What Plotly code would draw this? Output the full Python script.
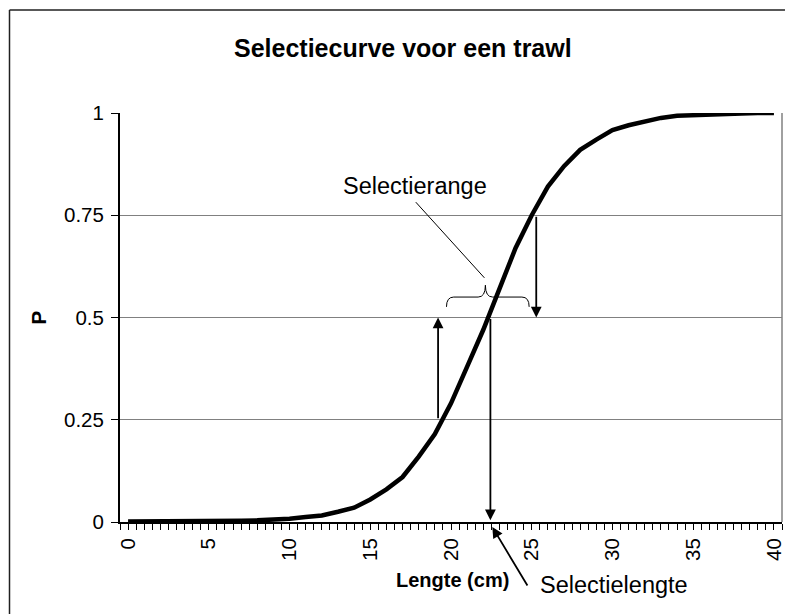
import plotly.graph_objects as go

# ---- data ----
lengths = list(range(0, 41))
probs = [0.001, 0.001, 0.001, 0.001, 0.001, 0.001, 0.001, 0.003, 0.004, 0.005,
         0.008, 0.012, 0.016, 0.025, 0.035, 0.055, 0.08, 0.11, 0.16, 0.215,
         0.29, 0.38, 0.47, 0.57, 0.67, 0.75, 0.82, 0.87, 0.91, 0.935,
         0.958, 0.97, 0.98, 0.988, 0.993, 0.995, 0.997, 0.998, 0.999, 1.0, 1.0]
x_ticks = [0, 5, 10, 15, 20, 25, 30, 35, 40]
y_ticks = [0, 0.25, 0.5, 0.75, 1]
y_tick_labels = ["0", "0.25", "0.5", "0.75", "1"]

L25 = 19.2      # length at P = 0.25
L50 = 22.44     # selection length (P = 0.5)
L75 = 25.28     # length at P = 0.75

title = "Selectiecurve voor een trawl"
x_title = "Lengte (cm)"
y_title = "P"
label_range = "Selectierange"
label_length = "Selectielengte"

FONT = "Liberation Sans, Arial, sans-serif"

W, H = 788, 614
ml, mt = 120, 113
mr = W - 785
mb = H - 522
PW = W - ml - mr
PH = H - mt - mb


def px_x(px):
    """window pixel -> paper x"""
    return (px - ml) / PW


def px_y(py):
    """window pixel -> paper y"""
    return (H - mb - py) / PH


fig = go.Figure()
fig.add_trace(go.Scatter(x=lengths, y=probs, mode="lines",
                         line=dict(color="black", width=4.5), hoverinfo="skip",
                         showlegend=False))

fig.update_layout(
    width=W, height=H,
    margin=dict(l=ml, r=mr, t=mt, b=mb, pad=0),
    paper_bgcolor="white", plot_bgcolor="white",
    font=dict(family=FONT, color="black"),
    showlegend=False,
)

fig.update_xaxes(
    range=[-0.5, 40.5], tickmode="array", tickvals=x_ticks,
    ticktext=[str(v) for v in x_ticks], tickangle=-90,
    tickfont=dict(size=20.5, family=FONT),
    ticks="outside", ticklen=6, tickwidth=1, tickcolor="black",
    minor=dict(tick0=-0.5, dtick=0.5, ticks="outside", ticklen=6,
               tickwidth=1, tickcolor="black", showgrid=False),
    showline=True, linecolor="black", linewidth=2,
    showgrid=False, zeroline=False, fixedrange=True,
)
fig.update_yaxes(
    range=[0, 1], tickmode="array", tickvals=y_ticks, ticktext=y_tick_labels,
    tickfont=dict(size=20.5, family=FONT), ticklabelstandoff=3,
    ticks="outside", ticklen=7, tickwidth=1, tickcolor="black",
    showline=True, linecolor="black", linewidth=2,
    showgrid=True, gridcolor="#808080", gridwidth=1,
    zeroline=False, fixedrange=True,
)

# outer chart border (left and top edges visible) and right plot-area border
fig.add_shape(type="line", xref="paper", yref="paper",
              x0=px_x(9), y0=px_y(10), x1=px_x(9), y1=px_y(H),
              line=dict(color="#202020", width=1.5), layer="below")
fig.add_shape(type="line", xref="paper", yref="paper",
              x0=px_x(9), y0=px_y(10), x1=px_x(W), y1=px_y(10),
              line=dict(color="#202020", width=1.5), layer="below")
fig.add_shape(type="line", xref="paper", yref="paper", x0=1, x1=1, y0=0, y1=1,
              line=dict(color="#808080", width=1.5))

# titles
fig.add_annotation(text="<b>%s</b>" % title, xref="paper", yref="paper",
                   x=px_x(404), y=px_y(48), showarrow=False,
                   font=dict(size=25, family=FONT), xanchor="center", yanchor="middle")
fig.add_annotation(text="<b>%s</b>" % x_title, xref="paper", yref="paper",
                   x=px_x(454), y=px_y(580), showarrow=False,
                   font=dict(size=20, family=FONT), xanchor="center", yanchor="middle")
fig.add_annotation(text="<b>%s</b>" % y_title, xref="paper", yref="paper",
                   x=px_x(38), y=0.5, showarrow=False, textangle=-90,
                   font=dict(size=21, family=FONT), xanchor="center", yanchor="middle")

arrow_style = dict(showarrow=True, arrowhead=2, arrowsize=1.2, arrowwidth=1.8,
                   arrowcolor="black", text="", xref="x", yref="y", axref="x", ayref="y")
# up arrow at P=0.25 length
fig.add_annotation(x=L25, y=0.5, ax=L25, ay=0.25, **arrow_style)
# down arrow at P=0.75 length
fig.add_annotation(x=L75, y=0.5, ax=L75, ay=0.75, **arrow_style)
# down arrow at selection length
fig.add_annotation(x=L50, y=0.004, ax=L50, ay=0.5, **arrow_style)

# brace over the selection range
xl, xr, xm = 19.72, 24.84, 22.13
yb, yh, yp = 0.526, 0.550, 0.579
dx = 0.45
path = (f"M {xl},{yb} Q {xl},{yh} {xl+dx},{yh} L {xm-dx},{yh} Q {xm},{yh} {xm},{yp} "
        f"Q {xm},{yh} {xm+dx},{yh} L {xr-dx},{yh} Q {xr},{yh} {xr},{yb}")
fig.add_shape(type="path", xref="x", yref="y", path=path,
              line=dict(color="black", width=1))
# leader line from brace to label
fig.add_shape(type="line", xref="x", yref="y", x0=22.07, y0=0.597, x1=17.82, y1=0.782,
              line=dict(color="black", width=1))
fig.add_annotation(text=label_range, xref="x", yref="y", x=17.76, y=0.822,
                   showarrow=False, font=dict(size=23.5, family=FONT),
                   xanchor="center", yanchor="middle")

# selection length label with arrow (below the axis -> paper coordinates)
fig.add_annotation(text=label_length, xref="paper", yref="paper",
                   x=px_x(540), y=px_y(585),
                   showarrow=False, font=dict(size=23.5, family=FONT),
                   xanchor="left", yanchor="middle")
fig.add_annotation(x=px_x(494), y=px_y(527), ax=36, ay=60,
                   showarrow=True, arrowhead=2, arrowsize=1.2, arrowwidth=1.8,
                   arrowcolor="black", text="", xref="paper", yref="paper")

fig.write_html(
    "out.html",
    config={"displayModeBar": False, "responsive": False},
    post_script="document.body.style.margin='0';document.body.style.overflow='hidden';",
)
